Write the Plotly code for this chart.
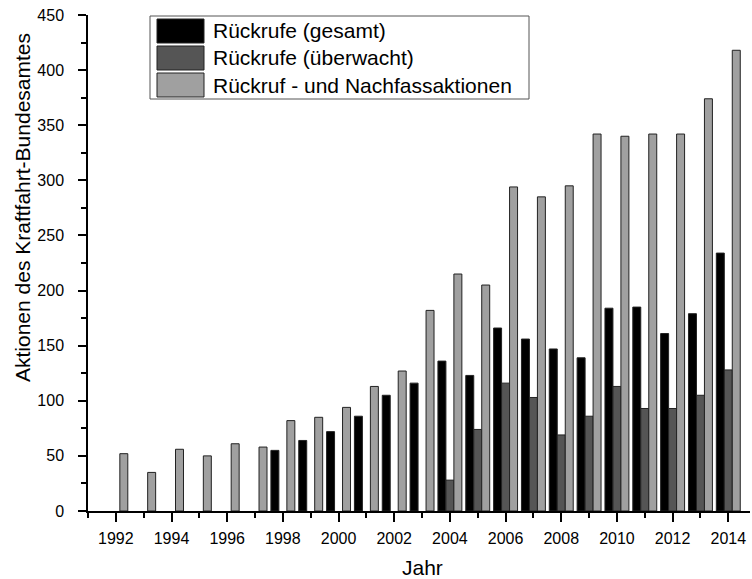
import plotly.graph_objects as go

# ---- data ----
years_all = list(range(1992, 2015))
years_gesamt = list(range(1998, 2015))
years_ueberwacht = list(range(2004, 2015))

rueckrufe_gesamt = [55, 64, 72, 86, 105, 116, 136, 123, 166, 156, 147, 139, 184, 185, 161, 179, 234]
rueckrufe_ueberwacht = [28, 74, 116, 103, 69, 86, 113, 93, 93, 105, 128]
nachfassaktionen = [52, 35, 56, 50, 61, 58, 82, 85, 94, 113, 127, 182, 215, 205, 294, 285, 295,
                    342, 340, 342, 342, 374, 418]

series_names = ["Rückrufe (gesamt)", "Rückrufe (überwacht)", "Rückruf - und Nachfassaktionen"]
series_colors = ["#000000", "#555555", "#a0a0a0"]

x_ticks = list(range(1992, 2015, 2))
y_ticks = list(range(0, 451, 50))

FONT = "Liberation Sans"
W, H = 752, 579
L, R, T, B = 88, 2, 15, 68
PW, PH = W - L - R, H - T - B


def px(x):
    return (x - L) / PW


def py(y):
    return (H - B - y) / PH


fig = go.Figure()
for xs, ys, name, col in [
    (years_gesamt, rueckrufe_gesamt, series_names[0], series_colors[0]),
    (years_ueberwacht, rueckrufe_ueberwacht, series_names[1], series_colors[1]),
    (years_all, nachfassaktionen, series_names[2], series_colors[2]),
]:
    fig.add_trace(go.Bar(
        x=xs, y=ys, name=name, showlegend=False,
        marker=dict(color=col, line=dict(color="#222222", width=1)),
    ))

# manual legend (large swatches like the original)
shapes = [dict(type="rect", xref="paper", yref="paper",
               x0=px(150), x1=px(529), y0=py(99), y1=py(16),
               line=dict(color="#555555", width=1), fillcolor="white", layer="above")]
annotations = []
for i, (name, col) in enumerate(zip(series_names, series_colors)):
    top = 19 + i * 27
    shapes.append(dict(type="rect", xref="paper", yref="paper",
                       x0=px(157), x1=px(204), y0=py(top + 24), y1=py(top),
                       line=dict(color="#222222", width=1), fillcolor=col, layer="above"))
    annotations.append(dict(xref="paper", yref="paper", x=px(211), y=py(top + 12),
                            text=name, showarrow=False, xanchor="left", yanchor="middle",
                            font=dict(family=FONT, size=21, color="black")))

# axis titles
annotations.append(dict(xref="paper", yref="paper", x=px(22), y=py(208),
                        text="Aktionen des Kraftfahrt-Bundesamtes", textangle=-90,
                        showarrow=False, xanchor="center", yanchor="middle",
                        font=dict(family=FONT, size=21, color="black")))
annotations.append(dict(xref="paper", yref="paper", x=px(423), y=py(567),
                        text="Jahr", showarrow=False, xanchor="center", yanchor="middle",
                        font=dict(family=FONT, size=21, color="black")))

fig.update_layout(
    width=W, height=H,
    margin=dict(l=L, r=R, t=T, b=B, pad=0),
    paper_bgcolor="white", plot_bgcolor="white",
    barmode="group", bargap=0.14, bargroupgap=0,
    font=dict(family=FONT, size=16, color="black"),
    shapes=shapes, annotations=annotations,
    xaxis=dict(range=[1991, 2014.78], tickmode="array", tickvals=x_ticks,
               ticktext=[str(v) for v in x_ticks],
               showline=True, linecolor="black", linewidth=1.5, mirror=False,
               ticks="outside", ticklen=9, tickwidth=1.5, tickcolor="black",
               ticklabelstandoff=3,
               showgrid=False, zeroline=False,
               minor=dict(dtick=1, tick0=1991, ticks="outside", ticklen=5, tickwidth=1.5,
                          tickcolor="black", showgrid=False),
               tickfont=dict(family=FONT, size=16)),
    yaxis=dict(range=[0, 450], tickmode="array", tickvals=y_ticks,
               showline=True, linecolor="black", linewidth=1.5, mirror=False,
               ticks="outside", ticklen=8, tickwidth=1.5, tickcolor="black",
               ticklabelstandoff=11,
               showgrid=False, zeroline=False,
               minor=dict(dtick=25, tick0=0, ticks="outside", ticklen=5, tickwidth=1.5,
                          tickcolor="black", showgrid=False),
               tickfont=dict(family=FONT, size=16)),
)

fig.write_html("out.html", config={"displayModeBar": False},
               post_script="document.body.style.margin='0';")
